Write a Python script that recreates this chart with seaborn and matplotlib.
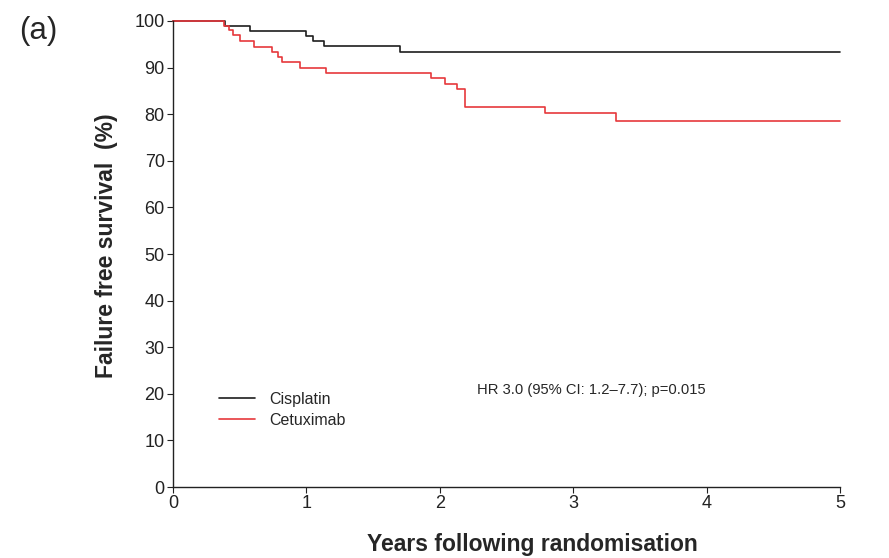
import matplotlib
matplotlib.use("Agg")
import matplotlib.pyplot as plt
import seaborn as sns
import pandas as pd
from matplotlib.lines import Line2D

# Kaplan-Meier step data
cis_time = [0.0, 0.39, 0.58, 1.00, 1.05, 1.13, 1.70, 5.0]
cis_surv = [100.0, 99.0, 97.8, 96.8, 95.6, 94.6, 93.4, 93.4]

cet_time = [0.0, 0.38, 0.42, 0.45, 0.50, 0.61, 0.74, 0.79, 0.82, 0.95, 1.15,
            1.93, 2.04, 2.13, 2.19, 2.79, 3.32, 5.0]
cet_surv = [100.0, 99.0, 98.1, 97.0, 95.6, 94.5, 93.4, 92.3, 91.1, 90.0, 88.8,
            87.7, 86.5, 85.3, 81.5, 80.2, 78.6, 78.6]

arms = ["Cisplatin", "Cetuximab"]
x_ticks = [0, 1, 2, 3, 4, 5]
y_ticks = [0, 10, 20, 30, 40, 50, 60, 70, 80, 90, 100]

df = pd.concat([
    pd.DataFrame({"time": cis_time, "surv": cis_surv, "arm": arms[0]}),
    pd.DataFrame({"time": cet_time, "surv": cet_surv, "arm": arms[1]}),
])

sns.set_style("ticks")
plt.rcParams['font.family'] = ['Liberation Sans', 'DejaVu Sans']

fig = plt.figure(figsize=(8.89, 5.58), dpi=100)
ax = fig.add_axes([0.1946, 0.1272, 0.7504, 0.8352])

palette = {"Cisplatin": "#1e1e1e", "Cetuximab": "#e6383c"}
sns.lineplot(data=df, x="time", y="surv", hue="arm", palette=palette,
             drawstyle="steps-post", estimator=None, linewidth=1.2, ax=ax,
             legend=False)

ax.set_xlim(0, 5)
ax.set_ylim(0, 100)
ax.set_xticks(x_ticks)
ax.set_yticks(y_ticks)
ax.tick_params(axis="both", labelsize=13, length=4, width=0.8, direction="out",
               pad=2, colors="#222222")
for s in ["top", "right"]:
    ax.spines[s].set_visible(False)
for s in ["left", "bottom"]:
    ax.spines[s].set_linewidth(1.0)
    ax.spines[s].set_color("#222222")
for ln in ax.lines:
    ln.set_clip_on(False)

ax.set_xlabel("Years following randomisation", fontsize=16.5, fontweight="bold")
ax.set_ylabel("Failure free survival  (%)", fontsize=16.5, fontweight="bold")
ax.xaxis.set_label_coords(0.538, -0.098)
ax.yaxis.set_label_coords(-0.082, 0.517)

# Legend
handles = [Line2D([0], [0], color=palette[a], lw=1.2) for a in arms]
ax.legend(handles, arms, loc="lower left", bbox_to_anchor=(0.06, 0.113),
          frameon=False, fontsize=11.5, handlelength=2.2, handletextpad=0.9,
          labelspacing=0.4, borderaxespad=0.0)

ax.text(0.456, 0.208, "HR 3.0 (95% CI: 1.2\u20137.7); p=0.015", transform=ax.transAxes,
        fontsize=10.6, ha="left", va="center")

fig.text(0.022, 0.944, "(a)", fontsize=22.5, ha="left", va="center")

fig.savefig("out.png", dpi=100)
